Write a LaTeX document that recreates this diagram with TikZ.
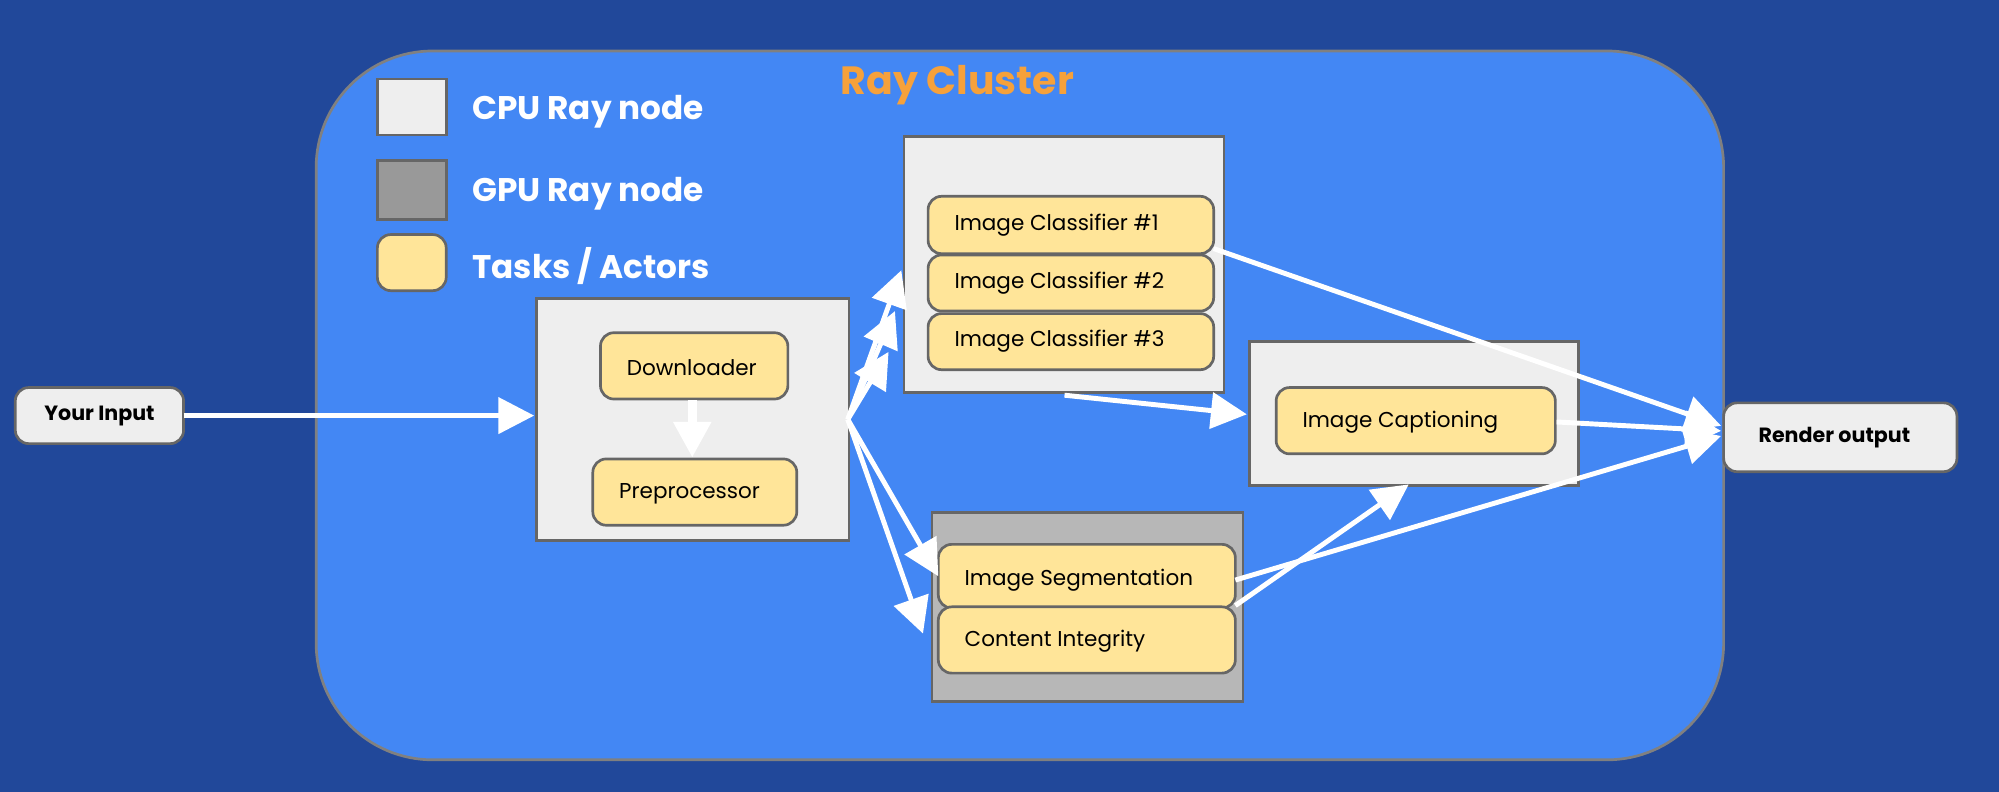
\documentclass[tikz,border=0pt]{standalone}
\usepackage{fontspec}
\setmainfont{Poppins}
\usetikzlibrary{arrows.meta}
\definecolor{bgdark}{HTML}{21489A}
\definecolor{cluster}{HTML}{4387F4}
\definecolor{cpu}{HTML}{EEEEEE}
\definecolor{gpu}{HTML}{B7B7B7}
\definecolor{task}{HTML}{FFE599}
\definecolor{title}{HTML}{F6A13B}
\begin{document}
\begin{tikzpicture}[x=0.1mm,y=-0.1mm,
  box/.style={draw=black!60,line width=0.6pt},
  tk/.style={box,fill=task,rounded corners=3pt},
  lbl/.style={font=\fontsize{4.8pt}{5pt}\selectfont,anchor=west,inner sep=0},
  arr/.style={white,line width=1.1pt,-{Triangle[length=8pt,width=8pt]}},
  leg/.style={font=\fontsize{7.3pt}{8pt}\selectfont\bfseries,text=white,anchor=west}]
\fill[bgdark] (0,0) rectangle (1568,621);
\useasboundingbox (0,0) rectangle (1568,621);
\draw[fill=cluster,draw=black!50,line width=0.6pt,rounded corners=26pt] (248,40) rectangle (1352,596);
\node[font=\fontsize{8.8pt}{9pt}\selectfont\bfseries,text=title] (title) at (751,67) {Ray Cluster};
% legend
\draw[box,fill=cpu] (296,62) rectangle (350,106);
\draw[box,fill=black!40] (296,126) rectangle (350,172);
\draw[tk] (296,184) rectangle (350,228);
\node[leg] (l1) at (358,88) {CPU Ray node};
\node[leg] (l2) at (358,152) {GPU Ray node};
\node[leg] (l3) at (358,209) {Tasks / Actors};
% input/output
\draw[box,fill=cpu,rounded corners=3pt] (12,304) rectangle (144,348);
\node[font=\fontsize{4.6pt}{5pt}\selectfont\bfseries] (inp) at (78,326) {Your Input};
\draw[box,fill=cpu,rounded corners=3pt] (1352,316) rectangle (1535,370);
\node[font=\fontsize{4.6pt}{5pt}\selectfont\bfseries,anchor=west] (out) at (1367,343) {Render output};
% containers
\draw[box,fill=cpu] (421,234) rectangle (666,424);
\draw[box,fill=cpu] (709,107) rectangle (960,308);
\draw[box,fill=cpu] (980,268) rectangle (1238,381);
\draw[box,fill=gpu] (731,402) rectangle (975,550);
% tasks
\draw[tk] (471,261) rectangle (618,313); \node[lbl] (dl) at (491,288) {Downloader};
\draw[tk] (465,360) rectangle (625,412); \node[lbl] (pp) at (485,387) {Preprocessor};
\draw[tk] (728,154) rectangle (952,199); \node[lbl] (c1) at (748,177) {Image Classifier \#1};
\draw[tk] (728,200) rectangle (952,244); \node[lbl] (c2) at (748,222) {Image Classifier \#2};
\draw[tk] (728,246) rectangle (952,290); \node[lbl] (c3) at (748,268) {Image Classifier \#3};
\draw[tk] (1001,304) rectangle (1220,356); \node[lbl] (cap) at (1021,331) {Image Captioning};
\draw[tk] (736,427) rectangle (969,477); \node[lbl] (seg) at (756,455) {Image Segmentation};
\draw[tk] (736,476) rectangle (969,528); \node[lbl] (ci) at (756,503) {Content Integrity};
% arrows
\coordinate (a0) at (144,326); \coordinate (a1) at (419,326);
\draw[arr] (a0) -- (a1);
\coordinate (d0) at (543,314); \coordinate (d1) at (543,359);
\draw[arr,line width=2pt] (d0) -- (d1);
\coordinate (s) at (665,329);
\coordinate (t1) at (707,212); \coordinate (t2) at (702,244); \coordinate (t3) at (697,276);
\draw[arr] (s) -- (t1); \draw[arr] (s) -- (t2); \draw[arr] (s) -- (t3);
\coordinate (t4) at (736,452); \coordinate (t5) at (724,497);
\draw[arr] (s) -- (t4); \draw[arr] (s) -- (t5);
\coordinate (b0) at (835,310); \coordinate (b1) at (978,325);
\draw[arr] (b0) -- (b1);
\coordinate (o) at (1350,338);
\coordinate (e1) at (952,195); \draw[arr] (e1) -- (1350,334);
\coordinate (e2) at (1221,331); \draw[arr] (e2) -- (o);
\coordinate (e3) at (969,455); \draw[arr] (e3) -- (1350,342);
\coordinate (e4) at (969,475); \coordinate (e5) at (1105,380);
\draw[arr] (e4) -- (e5);
\end{tikzpicture}
\end{document}
